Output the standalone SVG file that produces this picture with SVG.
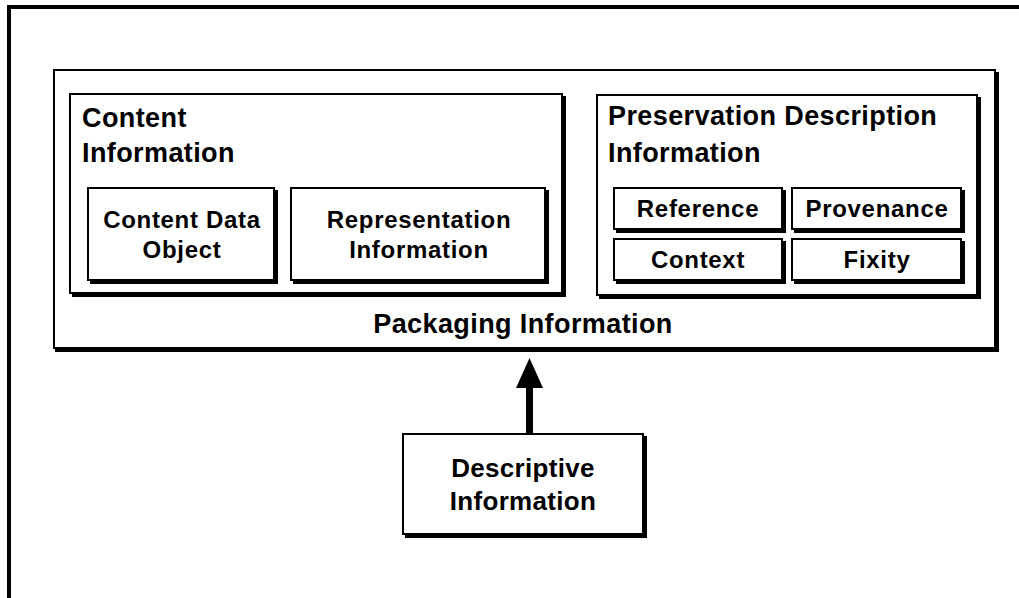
<svg xmlns="http://www.w3.org/2000/svg" width="1019" height="598" viewBox="0 0 1019 598">
<defs>
<style>
.box{fill:#fff;stroke:#000;stroke-width:2}
.sh{fill:#000}
text{font-family:"Liberation Sans",Arial,sans-serif;font-weight:bold;fill:#000}
.hd{font-size:27px;letter-spacing:0.4px}
.in{font-size:24px;letter-spacing:0.7px;text-anchor:middle}
.ds{font-size:26px;letter-spacing:0.3px;text-anchor:middle}
</style>
</defs>
<rect width="1019" height="598" fill="#fff"/>
<rect x="9" y="7" width="1030" height="620" fill="none" stroke="#000" stroke-width="4"/>
<g id="packaging">
<rect class="sh" x="55" y="72" width="944" height="280"/>
<rect class="box" x="54" y="70" width="941" height="278"/>
<text class="hd" x="523" y="333" text-anchor="middle">Packaging Information</text>
</g>
<g id="content-info">
<rect class="sh" x="72" y="96" width="494" height="201"/>
<rect class="box" x="70" y="94" width="492" height="199"/>
<text class="hd" x="82" y="127">Content</text>
<text class="hd" x="82" y="162">Information</text>
</g>
<g id="content-data-object">
<rect class="sh" x="90" y="190" width="188" height="94"/>
<rect class="box" x="88" y="188" width="186" height="92"/>
<text class="in" x="182" y="228">Content Data</text>
<text class="in" x="182" y="258">Object</text>
</g>
<g id="representation-info">
<rect class="sh" x="293" y="190" width="256" height="94"/>
<rect class="box" x="291" y="188" width="254" height="92"/>
<text class="in" x="419" y="228">Representation</text>
<text class="in" x="419" y="258">Information</text>
</g>
<g id="pdi">
<rect class="sh" x="599" y="97" width="382" height="202"/>
<rect class="box" x="597" y="95" width="380" height="200"/>
<text class="hd" x="608" y="125">Preservation Description</text>
<text class="hd" x="608" y="162">Information</text>
</g>
<g id="reference">
<rect class="sh" x="616" y="190" width="170" height="43"/>
<rect class="box" x="614" y="188" width="168" height="41"/>
<text class="in" x="698" y="217">Reference</text>
</g>
<g id="provenance">
<rect class="sh" x="794" y="190" width="171" height="43"/>
<rect class="box" x="792" y="188" width="169" height="41"/>
<text class="in" x="877" y="217">Provenance</text>
</g>
<g id="context">
<rect class="sh" x="616" y="241" width="170" height="43"/>
<rect class="box" x="614" y="239" width="168" height="41"/>
<text class="in" x="698" y="268">Context</text>
</g>
<g id="fixity">
<rect class="sh" x="794" y="241" width="171" height="43"/>
<rect class="box" x="792" y="239" width="169" height="41"/>
<text class="in" x="877" y="268">Fixity</text>
</g>
<g id="descriptive">
<rect class="sh" x="405" y="436" width="242" height="102"/>
<rect class="box" x="403" y="434" width="240" height="100"/>
<text class="ds" x="523" y="477">Descriptive</text>
<text class="ds" x="523" y="510">Information</text>
</g>
<g id="connectors">
<rect x="526" y="385" width="7" height="49" fill="#000"/>
<polygon points="529.5,358 516,388 543,388" fill="#000"/>
</g>
</svg>
